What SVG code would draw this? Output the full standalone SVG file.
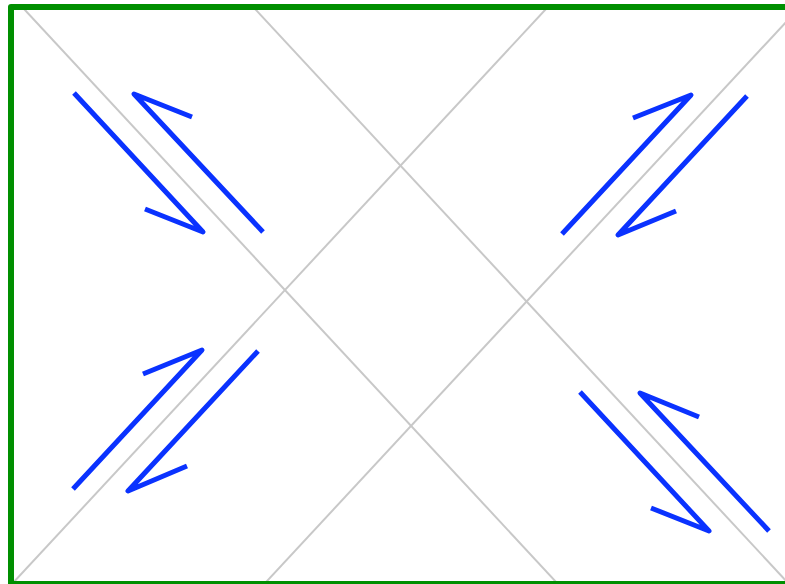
<svg xmlns="http://www.w3.org/2000/svg" width="785" height="584" viewBox="0 0 785 584">
<style>
.grid{stroke:#c8c8c8;stroke-width:2;fill:none}
.arr{stroke:#0a32ff;stroke-width:5;fill:none;stroke-linejoin:round;stroke-linecap:butt}
.frame{stroke:#008f00;stroke-width:6;fill:none;stroke-linejoin:round}
</style>
<defs>
<clipPath id="plot"><rect x="11" y="7" width="800" height="600"/></clipPath>
</defs>
<rect x="0" y="0" width="785" height="584" fill="#ffffff"/>
<g id="grid" clip-path="url(#plot)">
<line class="grid" x1="22.2" y1="7" x2="563.5" y2="590"/>
<line class="grid" x1="547.8" y1="7" x2="6.4" y2="590"/>
<line class="grid" x1="253.2" y1="7" x2="794.5" y2="590"/>
<line class="grid" x1="258.7" y1="590" x2="800" y2="7"/>
</g>
<g id="connectors">
<polyline class="arr" points="74,93 203,232 145,209"/>
<polyline class="arr" points="192,117 134,94 263,232"/>
<polyline class="arr" points="562,234 691,95 633,118"/>
<polyline class="arr" points="747,96 618,235 676,211"/>
<polyline class="arr" points="73,489 202,350 143,374"/>
<polyline class="arr" points="258,351 128,491 187,466"/>
<polyline class="arr" points="580,392 709,531 651,508"/>
<polyline class="arr" points="699,417 640,393 769,531"/>
</g>
<g id="frame">
<rect class="frame" x="11" y="7" width="800" height="577"/>
</g>
</svg>
